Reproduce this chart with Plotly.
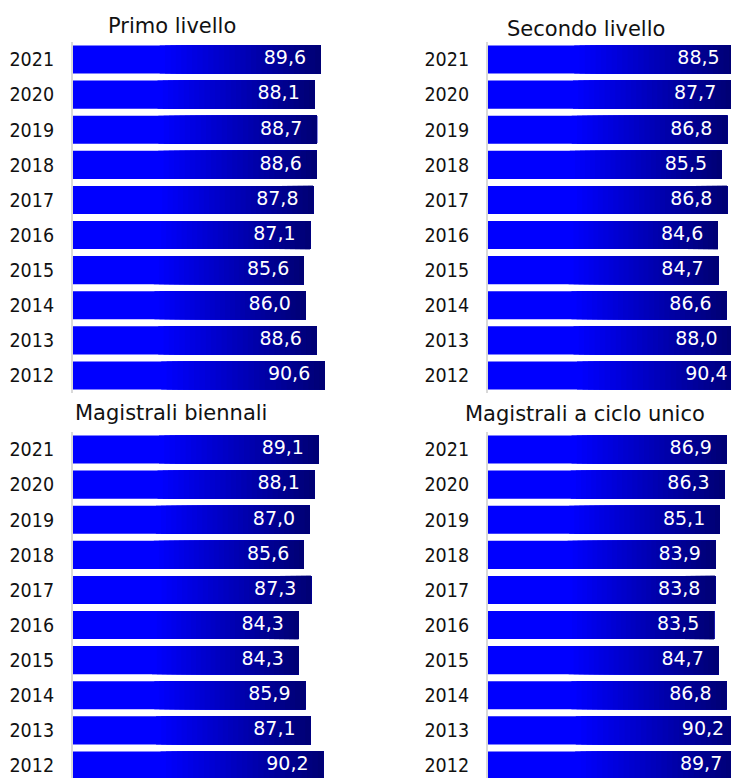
import plotly.graph_objects as go

# Survey years (top to bottom) and the four degree types
years = ["2021", "2020", "2019", "2018", "2017", "2016", "2015", "2014", "2013", "2012"]
primo_livello = [89.6, 88.1, 88.7, 88.6, 87.8, 87.1, 85.6, 86.0, 88.6, 90.6]
secondo_livello = [88.5, 87.7, 86.8, 85.5, 86.8, 84.6, 84.7, 86.6, 88.0, 90.4]
magistrali_biennali = [89.1, 88.1, 87.0, 85.6, 87.3, 84.3, 84.3, 85.9, 87.1, 90.2]
magistrali_ciclo_unico = [86.9, 86.3, 85.1, 83.9, 83.8, 83.5, 84.7, 86.8, 90.2, 89.7]
titles = ["Primo livello", "Secondo livello", "Magistrali biennali", "Magistrali a ciclo unico"]

W, H = 731, 778
PITCH = 35.1            # row height in px
LEFT_COL = (73, 350)    # plot area x extents in px
RIGHT_COL = (488, 731)
TOP_ROW = (42, 393)     # plot area y extents in px
BOTTOM_ROW = (432, 778)

panels = [
    dict(values=primo_livello, col=LEFT_COL, row=TOP_ROW, x0=30.6, ppu=4.2,
         title_xy=(171.5, 26.0)),
    dict(values=secondo_livello, col=RIGHT_COL, row=TOP_ROW, x0=29.84, ppu=4.2,
         title_xy=(585.5, 29.0)),
    dict(values=magistrali_biennali, col=LEFT_COL, row=BOTTOM_ROW, x0=30.6, ppu=4.2,
         title_xy=(171.0, 412.5)),
    dict(values=magistrali_ciclo_unico, col=RIGHT_COL, row=BOTTOM_ROW, x0=22.4, ppu=3.7,
         title_xy=(585.0, 414.0)),
]

# horizontal gradient: flat blue, then fading to navy at the bar end
GRAD_START = 0.35
N_STEPS = 30
BLUE_HI, BLUE_LO = 255, 112


def shade(t):
    if t <= GRAD_START:
        b = BLUE_HI
    else:
        b = BLUE_HI + (BLUE_LO - BLUE_HI) * (t - GRAD_START) / (1 - GRAD_START)
    return f"rgb(0,0,{round(b)})"


fig = go.Figure()
layout_axes = {}
annotations = []

for i, p in enumerate(panels, start=1):
    xs = "x" if i == 1 else f"x{i}"
    ys = "y" if i == 1 else f"y{i}"
    vals = p["values"]
    x0 = p["x0"]

    # gradient built from overlaid bar segments, each ending at the value
    steps = [0.0] + [GRAD_START + (1 - GRAD_START) * k / N_STEPS for k in range(N_STEPS)]
    for t in steps:
        bases = [x0 + t * (v - x0) for v in vals]
        fig.add_trace(go.Bar(
            y=years, x=[v - b for v, b in zip(vals, bases)], base=bases,
            orientation="h", marker=dict(color=shade(t), line=dict(width=0)),
            xaxis=xs, yaxis=ys, hoverinfo="skip", showlegend=False,
        ))

    # value labels, right-aligned just inside the bar end
    fig.add_trace(go.Scatter(
        y=years, x=vals, mode="markers+text",
        text=[f"{v:.1f}".replace(".", ",") for v in vals],
        textposition="middle left",
        textfont=dict(family="DejaVu Sans", size=19, color="white"),
        marker=dict(size=22, opacity=0),
        xaxis=xs, yaxis=ys, hoverinfo="skip", showlegend=False,
    ))

    cx0, cx1 = p["col"]
    ry0, ry1 = p["row"]
    xkey = "xaxis" if i == 1 else f"xaxis{i}"
    ykey = "yaxis" if i == 1 else f"yaxis{i}"
    layout_axes[xkey] = dict(
        domain=[cx0 / W, cx1 / W], anchor=ys, visible=False, fixedrange=True,
        range=[x0, x0 + (cx1 - cx0) / p["ppu"]],
    )
    layout_axes[ykey] = dict(
        domain=[1 - ry1 / H, 1 - ry0 / H], anchor=xs, type="category",
        range=[(ry1 - ry0) / PITCH - 0.5, -0.5],
        showline=True, linecolor="#d9d9d9", linewidth=2, showgrid=False,
        ticks="", ticklabelstandoff=13, fixedrange=True,
        tickfont=dict(family="DejaVu Sans Condensed, Liberation Sans", size=19.5, color="#111111"),
    )
    tx, ty = p["title_xy"]
    annotations.append(dict(
        text=titles[i - 1], xref="paper", yref="paper", x=tx / W, y=1 - ty / H,
        xanchor="center", yanchor="middle", showarrow=False,
        font=dict(family="DejaVu Sans", size=21, color="#111111"),
    ))

fig.update_layout(
    width=W, height=H, margin=dict(l=0, r=0, t=0, b=0),
    paper_bgcolor="white", plot_bgcolor="white",
    barmode="overlay", bargap=0.2,
    annotations=annotations,
    **layout_axes,
)

fig.write_html("out.html")
